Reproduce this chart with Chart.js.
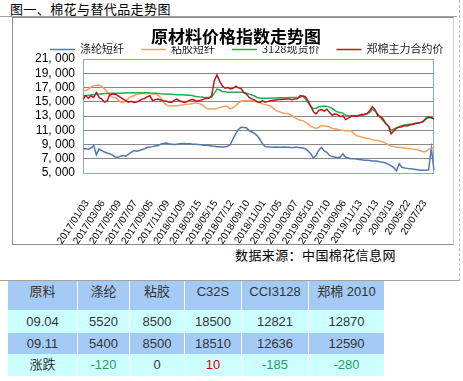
<!DOCTYPE html>
<html><head><meta charset="utf-8">
<script src="https://cdn.jsdelivr.net/npm/chart.js@4.4.0/dist/chart.umd.min.js"></script>
<style>
html,body{margin:0;padding:0;background:#fff;}
body{width:463px;height:381px;position:relative;overflow:hidden;font-family:"Noto Sans CJK SC",sans-serif;color:#000;}
#hdr{position:absolute;left:10px;top:0px;font-size:13px;letter-spacing:0.4px;line-height:18px;}
#topline{position:absolute;left:0;top:16px;width:457px;border-top:1px solid #a0a0a0;}
#rightline{position:absolute;left:459px;top:0;height:281px;border-left:1px dashed #b4b4b4;}
#botline{position:absolute;left:0;top:280px;width:459px;border-top:1px solid #a0a0a0;}
#box{position:absolute;left:12px;top:17px;width:440px;height:226px;border:1px solid #8c8c8c;border-right-color:#cfcfcf;}
#wrap{position:absolute;left:0;top:0;width:463px;height:245px;}
#src{position:absolute;left:235px;top:246px;font-size:13px;letter-spacing:0.4px;line-height:18px;}
#tbl{position:absolute;left:7px;top:281px;border-collapse:separate;border-spacing:1px 0;table-layout:fixed;}
#tbl td{padding:0;text-align:center;font-size:13px;color:#333;font-family:"Liberation Sans","Noto Sans CJK SC",sans-serif;line-height:16px;}
#tbl tr.h td{background:#a3cbf5;vertical-align:top;padding-top:3px;height:26px;}
#tbl tr.c td{background:#ccffff;}
#tbl tr.b td{background:#a3cbf5;}
.g{color:#2e9a5e !important;}
.r{color:#cc0000 !important;}
</style></head>
<body>
<div id="hdr">图一、棉花与替代品走势图</div>
<div id="topline"></div>
<div id="rightline"></div>
<div id="box"></div>
<div id="wrap"><canvas id="c" width="463" height="245"></canvas></div>
<div id="src">数据来源：中国棉花信息网</div>
<div id="botline"></div>
<table id="tbl">
<colgroup><col style="width:69px"><col style="width:51px"><col style="width:54px"><col style="width:56px"><col style="width:66px"><col style="width:75px"></colgroup>
<tbody id="tb"></tbody>
</table>
<script>
// ---- data ----
const seriesNames = ['涤纶短纤','粘胶短纤','3128现货价','郑棉主力合约价'];
const tickLabels = ['2017/01/03','2017/03/06','2017/05/09','2017/07/07','2017/09/05','2017/11/09','2018/01/09','2018/03/15','2018/05/15','2018/07/12','2018/09/10','2018/11/01','2019/01/05','2019/03/07','2019/05/10','2019/07/10','2019/09/06','2019/11/13','20/01/13','20/03/19','20/05/22','20/07/23'];
const pointsPerLabel = 6;
const polyester = [
8400,8400,8350,8500,8850,7550,8350,8150,7950,7800,7700,7500,
7250,7200,7350,7450,7350,7650,7900,8150,8050,8150,8300,8400,
8600,8650,8700,8800,8860,9050,9150,9200,9100,9050,9000,9050,
9100,9150,9150,9100,9100,9050,9050,9000,8950,8900,8880,8860,
8800,8750,8700,8700,8650,8700,8750,9000,9800,10500,11100,11420,
11400,11350,10950,10750,10550,10250,9700,9100,8700,8650,8650,8600,
8650,8600,8600,8650,8600,8600,8550,8600,8600,8550,8500,8400,
8100,7700,7100,7500,8200,8600,8100,7900,7470,7300,7250,7150,
7250,7700,7200,7100,7000,7000,6950,6900,6850,6800,6800,6750,
6700,6700,6650,6550,6500,6400,6200,6000,5750,5300,6300,5800,
5700,5650,5600,5550,5500,5450,5400,5400,5400,5450,8500,5400];
const viscose = [
16600,16550,16750,17100,17250,17300,17300,17200,16800,16400,15900,15650,
15600,15300,14950,14900,15150,15500,15700,15850,16050,16100,16150,16150,
16150,16150,16100,16100,15900,15600,14900,14600,14440,14440,14400,14450,
14500,14550,14600,14650,14700,14750,14850,14800,14650,14440,14100,13980,
13980,13980,14050,14150,14250,14400,14300,14000,14150,14440,14800,15100,
15140,15140,15140,15140,15100,15000,14900,14700,14600,14500,14400,14100,
13750,13650,13500,13400,13350,13280,13050,12800,12550,12400,12350,12150,
11900,11550,11400,11250,11400,11650,11600,11550,11450,11250,11200,11150,
11050,11000,10900,10950,10900,10600,10260,10150,10050,9950,9850,9790,
9650,9580,9560,9450,9330,9150,8950,8800,8700,8630,8600,8550,
8500,8450,8400,8350,8300,8250,8100,8000,8000,8300,8450,8500];
const cci3128 = [
15850,15880,15900,15950,16000,16050,16100,16100,16150,16150,16200,16200,
16200,16200,16200,16220,16230,16250,16250,16250,16250,16250,16250,16250,
16250,16220,16200,16180,16150,16120,16100,16080,16050,16050,16020,16000,
16000,15980,15950,15920,15900,15850,15750,15700,15650,15620,15600,15600,
15650,16200,16770,16650,16450,16400,16350,16350,16330,16330,16320,16320,
16300,16200,16070,15950,15800,15600,15500,15480,15480,15500,15500,15520,
15530,15550,15550,15560,15560,15580,15580,15600,15600,15620,15800,15400,
14900,14300,14050,14100,14300,14350,14400,14350,14250,14050,13800,13550,
13500,13400,13100,13050,13050,13050,13050,13100,13100,13150,13300,13500,
13950,13700,13300,12800,12350,12000,11600,10950,11150,11350,11500,11650,
11750,11800,11850,11900,12000,12050,12100,12300,12550,12800,12700,12636];
const zce = [
15370,15840,15500,15840,15600,16300,15600,15370,14950,15100,15980,16050,
16070,15850,15600,15370,15140,14950,15050,14900,14950,15140,15370,15450,
15700,15840,15140,15300,15370,15250,15140,15100,14950,14900,15200,15370,
15140,15000,14900,15050,15250,15300,15140,15100,15200,15370,15450,15500,
15840,17930,18770,17900,17230,16900,17000,16800,16900,17200,16950,16850,
16300,16070,15600,15400,15250,15000,14900,15140,14950,15050,15140,15200,
15250,15300,15300,15350,15370,15370,15300,15370,15400,15840,15800,15700,
15100,14400,13600,13300,13800,13900,13700,13950,13510,13100,13300,13200,
12900,13050,12500,12700,12900,13050,12950,13050,13200,13250,13350,13745,
14300,13900,13050,12900,12580,11900,11600,10500,10900,11300,11400,11500,
11650,11600,11750,11800,11900,12000,12100,12200,12700,12850,12800,12590];
const yMin = 5000, yMax = 21000, yStep = 2000;

// table data
const tableHead = ['原料','涤纶','粘胶','C32S','CCI3128','郑棉 2010'];
const rowLabels = ['09.04','09.11','涨跌'];
const week1 = [5520,8500,18500,12821,12870];
const week2 = [5400,8500,18510,12636,12590];
const change = [-120,0,10,-185,-280];

// ---- table ----
const tb = document.getElementById('tb');
function addRow(cls, cells, classes, h){
  const tr = document.createElement('tr'); tr.className = cls;
  cells.forEach((t,i)=>{const td=document.createElement('td'); td.textContent=t; if(classes&&classes[i]) td.className=classes[i]; if(h) td.style.height=h+'px'; tr.appendChild(td);});
  tb.appendChild(tr);
}
addRow('h', tableHead);
addRow('c', [rowLabels[0]].concat(week1), null, 23);
addRow('b', [rowLabels[1]].concat(week2), null, 21);
addRow('c', [rowLabels[2]].concat(change.map(String)), [''].concat(change.map(v=>v<0?'g':(v>0?'r':''))), 22);

// ---- chart ----
const colors = ['#5079b4','#f5a15e','#1fae4e','#c0141c'];
const labels = polyester.map((_,i)=>i);
const fmt = v => String(v).replace(/\B(?=(\d{3})+(?!\d))/g, ', ');

const framePlugin = {
  id:'frame',
  beforeDatasetsDraw(c){
    const a=c.chartArea, g=c.ctx; g.save();
    g.strokeStyle='#8fa8c8'; g.lineWidth=1;
    g.strokeRect(Math.round(a.left)+0.5, Math.round(a.top)+0.5, Math.round(a.right-a.left)-1, Math.round(a.bottom-a.top));
    g.restore();
  }
};
const headPlugin = {
  id:'head',
  afterDraw(c){
    const g=c.ctx; g.save();
    g.font='11px "Noto Sans CJK SC"'; g.textBaseline='middle';
    let x=50; const y=49;
    seriesNames.forEach((n,k)=>{
      g.strokeStyle=colors[k]; g.lineWidth=1.5;
      g.beginPath(); g.moveTo(x,y+0.5); g.lineTo(x+25,y+0.5); g.stroke();
      g.fillStyle='#222'; g.textAlign='left'; g.fillText(n,x+30,y);
      x += 30 + g.measureText(n).width + 17;
    });
    const t='原材料价格指数走势图';
    g.font='bold 17px "Noto Sans CJK SC"';
    const w=g.measureText(t).width;
    g.fillStyle='#fff'; g.fillRect(236-w/2-2,27,w+4,19);
    g.fillStyle='#000'; g.textAlign='center'; g.fillText(t,236,37);
    g.restore();
  }
};

new Chart(document.getElementById('c'), {
  type:'line',
  data:{
    labels,
    datasets:[
      {label:seriesNames[0], data:polyester, borderColor:colors[0], order:3},
      {label:seriesNames[1], data:viscose, borderColor:colors[1], order:2},
      {label:seriesNames[2], data:cci3128, borderColor:colors[2], order:1},
      {label:seriesNames[3], data:zce, borderColor:colors[3], order:0}
    ]
  },
  options:{
    responsive:false, animation:false, devicePixelRatio:1,
    layout:{padding:{left:0,top:59,right:29,bottom:0}},
    elements:{point:{radius:0}, line:{tension:0, borderWidth:1.5}},
    plugins:{legend:{display:false}, title:{display:false}, tooltip:{enabled:false}},
    scales:{
      x:{
        type:'category', offset:false,
        grid:{display:false}, border:{display:false},
        ticks:{autoSkip:false, minRotation:57, maxRotation:57, padding:17, labelOffset:4, color:'#000',
          font:{family:'Liberation Sans', size:10},
          callback:(v,i)=> i%pointsPerLabel===0 ? (tickLabels[i/pointsPerLabel]||'') : ''},
        afterFit:s=>{s.height=72;}
      },
      y:{
        min:yMin, max:yMax,
        ticks:{stepSize:yStep, autoSkip:false, padding:8, color:'#000', font:{family:'Liberation Sans', size:12}, callback:v=>fmt(v)},
        grid:{color:'#878787', drawTicks:false, lineWidth:1}, border:{display:false},
        afterFit:s=>{s.width=83;}
      }
    }
  },
  plugins:[framePlugin, headPlugin]
});
</script>
</body></html>
